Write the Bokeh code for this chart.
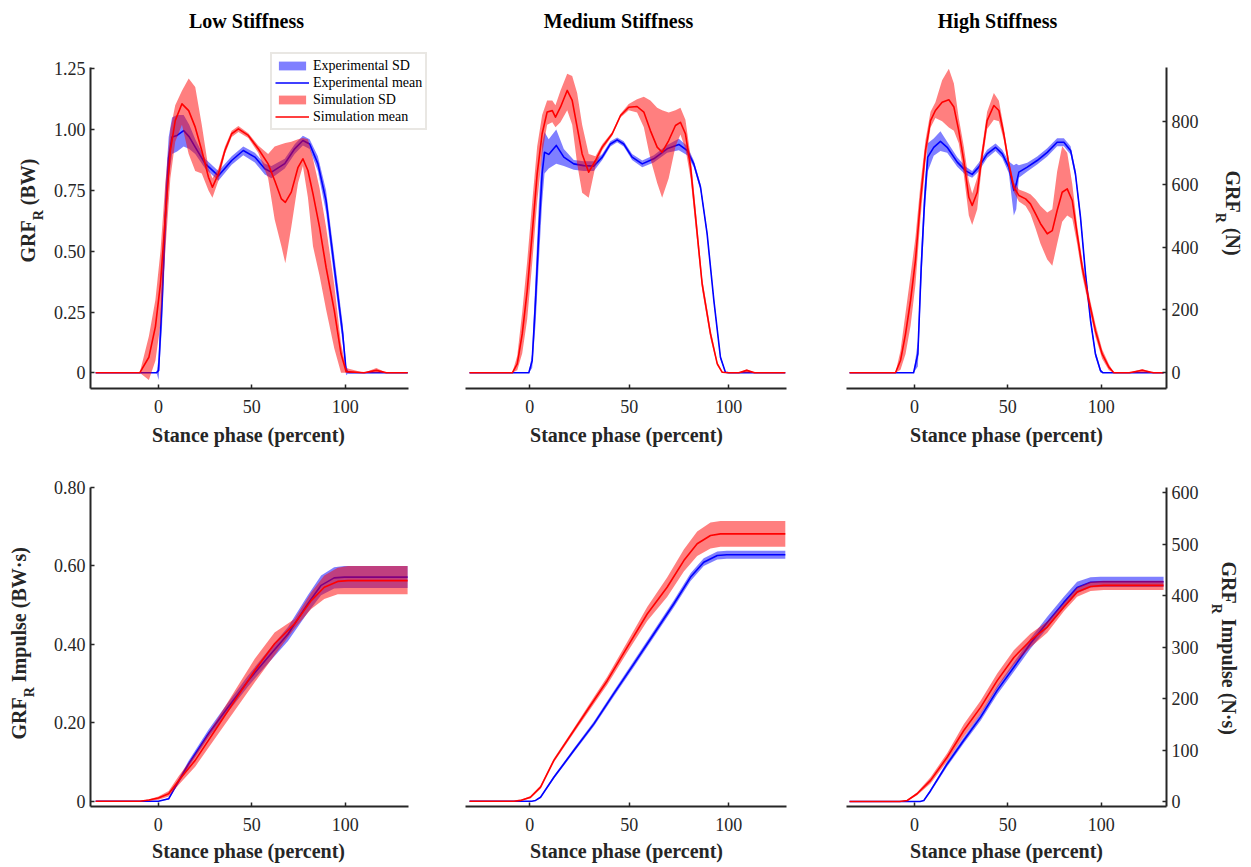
import math
from bokeh.plotting import figure
from bokeh.layouts import column, row
from bokeh.models import Label, Legend, LegendItem, Range1d, FixedTicker
from bokeh.embed import file_html
from bokeh.resources import INLINE

# ---------------- texts / ticks ----------------
panel_titles = ["Low Stiffness", "Medium Stiffness", "High Stiffness"]
x_label = "Stance phase (percent)"
x_ticks = [0, 50, 100]
grf_bw_ticks = [0, 0.25, 0.5, 0.75, 1.0, 1.25]
grf_bw_tick_labels = ["0", "0.25", "0.50", "0.75", "1.00", "1.25"]
grf_n_ticks = [0, 200, 400, 600, 800]
imp_bw_ticks = [0, 0.2, 0.4, 0.6, 0.8]
imp_bw_tick_labels = ["0", "0.20", "0.40", "0.60", "0.80"]
imp_ns_ticks = [0, 100, 200, 300, 400, 500, 600]
legend_labels = ["Experimental SD", "Experimental mean", "Simulation SD", "Simulation mean"]

# ---------------- GRF, low stiffness (BW) ----------------
low_exp_x = [-33.6, -1.0, 0.1, 2.0, 3.7, 5.5, 7.3, 10.0, 13.5, 16.5, 19.7, 25.0, 32.1, 39.2, 45.4, 51.6, 56.9, 60.5, 67.6, 72.9, 77.3, 80.9, 85.3, 89.7, 94.1, 98.6, 100.4, 102.0, 133.4]
low_exp_mean = [0, 0, 0.01, 0.30, 0.64, 0.886, 0.97, 0.976, 0.996, 0.97, 0.928, 0.86, 0.81, 0.873, 0.914, 0.887, 0.839, 0.825, 0.86, 0.921, 0.955, 0.941, 0.86, 0.708, 0.434, 0.16, 0.01, 0, 0]
low_exp_lo = [0, 0, -0.03, 0.20, 0.52, 0.80, 0.90, 0.91, 0.93, 0.92, 0.90, 0.84, 0.79, 0.855, 0.895, 0.865, 0.815, 0.80, 0.84, 0.90, 0.935, 0.92, 0.83, 0.66, 0.39, 0.12, -0.01, 0, 0]
low_exp_hi = [0, 0, 0.06, 0.40, 0.76, 0.97, 1.05, 1.06, 1.06, 1.02, 0.96, 0.88, 0.83, 0.89, 0.93, 0.905, 0.86, 0.85, 0.88, 0.94, 0.975, 0.96, 0.89, 0.75, 0.48, 0.20, 0.03, 0, 0]
low_sim_x = [-33.6, -10.0, -5.1, -1.6, 1.1, 3.7, 6.4, 9.0, 12.6, 16.2, 19.7, 23.2, 26.8, 28.9, 32.1, 35.6, 39.2, 42.8, 48.1, 53.4, 58.7, 62.2, 65.8, 67.9, 71.1, 74.7, 77.3, 80.0, 82.7, 86.2, 89.7, 94.1, 97.7, 100.4, 110.0, 116.6, 122.0, 133.4]
low_sim_mean = [0, 0, 0.064, 0.19, 0.366, 0.64, 0.914, 1.037, 1.106, 1.078, 1.01, 0.914, 0.804, 0.763, 0.818, 0.914, 0.983, 1.003, 0.976, 0.921, 0.859, 0.791, 0.715, 0.701, 0.743, 0.845, 0.88, 0.832, 0.736, 0.599, 0.434, 0.256, 0.078, 0.005, 0, 0.01, 0, 0]
low_sim_lo = [0, 0, -0.03, 0.05, 0.20, 0.50, 0.80, 0.95, 1.02, 0.90, 0.83, 0.82, 0.75, 0.72, 0.79, 0.90, 0.97, 0.99, 0.965, 0.905, 0.80, 0.63, 0.52, 0.45, 0.60, 0.78, 0.85, 0.72, 0.52, 0.40, 0.26, 0.10, 0.0, 0, 0, 0, 0, 0]
low_sim_hi = [0, 0, 0.15, 0.30, 0.50, 0.78, 1.00, 1.10, 1.16, 1.21, 1.175, 1.02, 0.84, 0.80, 0.84, 0.93, 0.995, 1.015, 0.985, 0.935, 0.90, 0.93, 0.94, 0.945, 0.95, 0.96, 0.965, 0.96, 0.88, 0.76, 0.60, 0.36, 0.12, 0.02, 0, 0.02, 0, 0]

# ---------------- GRF, medium stiffness (BW) ----------------
med_exp_x = [-30.3, -0.5, 1.2, 2.9, 4.5, 6.2, 7.4, 9.5, 13.3, 17.1, 22.1, 27.1, 32.2, 36.4, 40.5, 43.9, 47.2, 51.4, 56.5, 62.3, 69.0, 74.9, 79.1, 82.4, 85.8, 89.1, 92.5, 95.8, 98.3, 100.0, 128.4]
med_exp_mean = [0, 0, 0.05, 0.30, 0.57, 0.82, 0.907, 0.898, 0.935, 0.887, 0.859, 0.852, 0.85, 0.887, 0.941, 0.958, 0.941, 0.887, 0.859, 0.88, 0.921, 0.939, 0.914, 0.859, 0.763, 0.572, 0.297, 0.064, 0.002, 0, 0]
med_exp_lo = [0, 0, 0.02, 0.20, 0.45, 0.70, 0.82, 0.84, 0.86, 0.85, 0.835, 0.83, 0.83, 0.875, 0.93, 0.948, 0.93, 0.875, 0.845, 0.865, 0.905, 0.915, 0.895, 0.845, 0.75, 0.56, 0.285, 0.055, 0, 0, 0]
med_exp_hi = [0, 0, 0.08, 0.40, 0.69, 0.94, 0.99, 0.96, 1.0, 0.92, 0.875, 0.87, 0.87, 0.90, 0.952, 0.968, 0.952, 0.90, 0.873, 0.895, 0.937, 0.962, 0.933, 0.873, 0.776, 0.584, 0.309, 0.073, 0.004, 0, 0]
med_sim_x = [-30.3, -8.8, -6.3, -3.8, -1.3, 1.2, 3.7, 6.2, 8.7, 11.3, 12.9, 15.4, 18.8, 21.3, 23.8, 26.3, 29.6, 33.0, 36.4, 41.4, 45.6, 49.7, 53.9, 57.3, 60.6, 64.0, 66.5, 69.8, 73.2, 75.7, 78.2, 80.8, 83.3, 86.6, 90.8, 94.2, 96.7, 100.0, 105.0, 109.0, 113.0, 128.4]
med_sim_mean = [0, 0, 0.037, 0.16, 0.338, 0.572, 0.818, 0.983, 1.072, 1.078, 1.051, 1.092, 1.161, 1.12, 1.01, 0.9, 0.825, 0.873, 0.928, 0.983, 1.058, 1.092, 1.095, 1.072, 0.996, 0.928, 0.907, 0.955, 1.017, 1.03, 0.983, 0.845, 0.64, 0.366, 0.16, 0.037, 0.002, 0, 0, 0.01, 0, 0]
med_sim_lo = [0, 0, 0.01, 0.08, 0.22, 0.45, 0.70, 0.90, 1.02, 1.03, 1.01, 1.03, 1.08, 1.02, 0.86, 0.74, 0.72, 0.85, 0.915, 0.975, 1.05, 1.08, 1.07, 1.01, 0.88, 0.78, 0.72, 0.80, 0.93, 0.98, 0.92, 0.80, 0.60, 0.34, 0.14, 0.03, 0, 0, 0, 0, 0, 0]
med_sim_hi = [0, 0, 0.07, 0.25, 0.46, 0.70, 0.93, 1.06, 1.12, 1.12, 1.10, 1.16, 1.23, 1.22, 1.15, 1.02, 0.90, 0.89, 0.94, 0.99, 1.065, 1.105, 1.125, 1.135, 1.12, 1.09, 1.08, 1.07, 1.08, 1.09, 1.04, 0.89, 0.68, 0.39, 0.18, 0.045, 0.005, 0, 0, 0.015, 0, 0]

# ---------------- GRF, high stiffness (N) ----------------
high_exp_x = [-34.8, -0.5, 1.8, 3.6, 5.4, 7.1, 10.3, 13.9, 17.5, 22.9, 27.3, 30.9, 34.4, 38.9, 43.4, 47.0, 50.5, 53.2, 54.5, 55.9, 60.4, 65.7, 71.1, 76.4, 80.0, 83.6, 86.2, 88.9, 91.6, 94.3, 96.9, 99.6, 101.0, 133.4]
high_exp_mean = [0, 0, 60, 336, 548, 686, 717, 736, 717, 670, 643, 631, 654, 696, 717, 696, 654, 580, 600, 638, 654, 675, 701, 733, 733, 707, 633, 495, 315, 166, 60, 7, 0, 0]
high_exp_lo = [0, 0, 20, 280, 500, 640, 690, 705, 700, 655, 630, 620, 640, 683, 705, 683, 635, 500, 520, 620, 640, 662, 688, 720, 720, 694, 620, 482, 302, 155, 50, 0, 0, 0]
high_exp_hi = [0, 0, 100, 390, 596, 730, 745, 768, 735, 685, 656, 642, 668, 709, 729, 709, 672, 660, 665, 660, 668, 688, 714, 746, 746, 720, 646, 508, 328, 177, 70, 14, 0, 0]
high_sim_x = [-34.8, -10.2, -7.5, -4.8, -2.1, 0.5, 3.2, 5.9, 8.6, 11.2, 14.8, 18.4, 21.1, 23.7, 26.4, 29.1, 30.9, 33.6, 36.3, 38.9, 42.5, 45.2, 47.8, 50.5, 53.2, 55.9, 59.5, 62.1, 64.8, 67.5, 71.1, 73.8, 76.4, 79.1, 81.8, 84.5, 87.1, 89.8, 93.4, 96.9, 100.5, 104.1, 106.8, 115.0, 122.0, 128.0, 133.4]
high_sim_mean = [0, 0, 39, 124, 230, 357, 548, 707, 802, 834, 860, 868, 845, 770, 675, 558, 532, 574, 696, 802, 850, 834, 760, 664, 590, 564, 553, 537, 506, 474, 442, 452, 516, 574, 585, 548, 442, 336, 230, 134, 60, 18, 0, 0, 8, 0, 0]
high_sim_lo = [0, 0, 10, 60, 150, 280, 490, 670, 780, 810, 800, 780, 770, 730, 630, 500, 470, 520, 670, 775, 805, 800, 740, 650, 575, 545, 530, 505, 460, 410, 360, 340, 410, 480, 500, 490, 410, 310, 210, 115, 45, 8, 0, 0, 0, 0, 0]
high_sim_hi = [0, 0, 70, 190, 310, 430, 600, 740, 830, 860, 930, 967, 920, 810, 720, 610, 570, 620, 720, 830, 890, 865, 780, 680, 605, 583, 575, 568, 552, 530, 510, 520, 640, 720, 700, 600, 470, 360, 250, 155, 75, 28, 0, 0, 12, 0, 0]

# ---------------- Impulse, low stiffness (BW*s) ----------------
imp_low_exp_x = [-33.6, 0.0, 5.5, 9.0, 16.2, 26.8, 37.4, 48.1, 58.7, 69.4, 80.0, 87.1, 94.1, 99.5, 133.4]
imp_low_exp_mean = [0, 0, 0.006, 0.036, 0.095, 0.172, 0.24, 0.307, 0.367, 0.426, 0.503, 0.55, 0.569, 0.571, 0.571]
imp_low_exp_lo = [0, 0, 0.004, 0.031, 0.087, 0.162, 0.228, 0.293, 0.351, 0.408, 0.481, 0.525, 0.542, 0.543, 0.543]
imp_low_exp_hi = [0, 0, 0.008, 0.041, 0.103, 0.182, 0.252, 0.321, 0.383, 0.444, 0.525, 0.575, 0.596, 0.599, 0.599]
imp_low_sim_x = [-33.6, -10.0, -5.0, 0.0, 5.5, 10.9, 19.7, 30.3, 41.0, 51.6, 62.2, 72.9, 81.8, 88.8, 96.0, 101.5, 133.4]
imp_low_sim_mean = [0, 0, 0.003, 0.008, 0.019, 0.053, 0.104, 0.18, 0.257, 0.333, 0.401, 0.452, 0.511, 0.545, 0.56, 0.562, 0.562]
imp_low_sim_lo = [0, 0, 0.001, 0.004, 0.012, 0.042, 0.088, 0.16, 0.232, 0.303, 0.372, 0.44, 0.49, 0.515, 0.527, 0.527, 0.527]
imp_low_sim_hi = [0, 0, 0.005, 0.012, 0.026, 0.064, 0.12, 0.2, 0.282, 0.363, 0.43, 0.464, 0.532, 0.575, 0.595, 0.599, 0.599]

# ---------------- Impulse, medium stiffness (BW*s) ----------------
imp_med_exp_x = [-30.3, 1.0, 2.9, 5.4, 12.1, 22.1, 32.2, 42.2, 52.3, 62.3, 72.4, 80.8, 87.4, 94.2, 99.0, 128.4]
imp_med_exp_mean = [0, 0, 0.002, 0.01, 0.061, 0.129, 0.197, 0.274, 0.35, 0.426, 0.503, 0.571, 0.609, 0.626, 0.628, 0.628]
imp_med_exp_lo = [0, 0, 0.001, 0.008, 0.057, 0.124, 0.191, 0.267, 0.342, 0.418, 0.494, 0.561, 0.599, 0.616, 0.618, 0.618]
imp_med_exp_hi = [0, 0, 0.003, 0.012, 0.065, 0.134, 0.203, 0.281, 0.358, 0.434, 0.512, 0.581, 0.619, 0.636, 0.638, 0.638]
imp_med_sim_x = [-30.3, -8.0, -4.7, 0.3, 5.4, 12.1, 22.1, 28.8, 38.9, 48.9, 59.0, 69.0, 77.4, 84.1, 90.8, 95.8, 128.4]
imp_med_sim_mean = [0, 0, 0.002, 0.01, 0.036, 0.104, 0.18, 0.231, 0.307, 0.392, 0.477, 0.545, 0.613, 0.656, 0.677, 0.681, 0.681]
imp_med_sim_lo = [0, 0, 0.001, 0.007, 0.032, 0.099, 0.174, 0.223, 0.297, 0.379, 0.459, 0.52, 0.585, 0.625, 0.644, 0.648, 0.648]
imp_med_sim_hi = [0, 0, 0.003, 0.013, 0.04, 0.109, 0.186, 0.239, 0.317, 0.405, 0.495, 0.57, 0.641, 0.687, 0.71, 0.714, 0.714]

# ---------------- Impulse, high stiffness (N*s) ----------------
imp_high_exp_x = [-34.8, 0.0, 3.0, 5.0, 8.6, 17.5, 26.4, 35.4, 44.3, 53.2, 62.1, 71.1, 80.0, 87.1, 94.3, 99.6, 133.4]
imp_high_exp_mean = [0, 0, 0, 2, 21, 73, 119, 164, 216, 261, 307, 348, 387, 416, 426, 427, 427]
imp_high_exp_lo = [0, 0, 0, 1, 18, 68, 113, 157, 208, 252, 297, 337, 376, 405, 416, 417, 417]
imp_high_exp_hi = [0, 0, 0, 3, 24, 78, 125, 171, 224, 270, 317, 359, 398, 427, 436, 437, 437]
imp_high_sim_x = [-34.8, -8.0, -3.9, 1.4, 8.6, 17.5, 26.4, 35.4, 44.3, 53.2, 62.1, 71.1, 80.0, 87.1, 94.3, 101.4, 133.4]
imp_high_sim_mean = [0, 0, 2, 15, 41, 86, 138, 183, 235, 280, 313, 339, 378, 407, 418, 420, 420]
imp_high_sim_lo = [0, 0, 1, 12, 35, 78, 126, 170, 221, 266, 300, 328, 370, 398, 409, 411, 411]
imp_high_sim_hi = [0, 0, 3, 18, 47, 94, 150, 196, 249, 294, 326, 350, 386, 416, 427, 429, 429]

# ---------------- style ----------------
FONT = "Liberation Serif"
AX = "#262626"
BLUE = "#0000ff"
RED = "#ff0000"
BASELINE_FIX = 0.39   # measured offset of rendered baseline, in em

# Times (Liberation Serif) bold advance widths, per 1000 em
TB = {'G': 778, 'R': 722, 'F': 611, ' ': 250, '(': 333, ')': 333, 'B': 667, 'W': 1000,
      'N': 722, 'I': 389, 'm': 833, 'p': 556, 'u': 556, 'l': 278, 's': 389, 'e': 444, '\u00b7': 250}


def tw(s, size):
    return sum(TB.get(c, 500) for c in s) * size / 1000.0


def style_axis(ax, ticks, labels=None, standoff=6):
    ax.ticker = FixedTicker(ticks=ticks)
    if labels:
        ax.major_label_overrides = {t: l for t, l in zip(ticks, labels)}
    ax.axis_line_color = AX
    ax.axis_line_width = 2
    ax.major_tick_line_color = AX
    ax.major_tick_line_width = 1.5
    ax.major_tick_in = 4
    ax.major_tick_out = 0
    ax.minor_tick_line_color = None
    ax.major_label_text_font = FONT
    ax.major_label_text_font_size = "18px"
    ax.major_label_text_color = AX
    ax.major_label_standoff = standoff


# page-pixel geometry (page origin at the top-left corner):
# canvas (cl,ct,cr,cb), frame (fl,ft,fr,fb), axis-line extent (al,ar,at,ab),
# data mapping: page_x = X0 + kx*x, page_y = Y0 - ky*y
XA = dict(X0=156.3, kx=1.88)
XB = dict(X0=529.3, kx=1.99)
XC = dict(X0=914.0, kx=1.867)
TOP = dict(ct=45, cb=422, ft=50, fb=388, at=67, ab=388)
BOT = dict(ct=455, cb=838, ft=486, fb=806, at=486.5, ab=806)

GEOM = {
    'A': dict(cl=50, cr=436, fl=88, fr=436, al=88, ar=408, Y0=372.3, ky=243.2, **XA, **TOP),
    'B': dict(cl=436, cr=816, fl=465, fr=786, al=465, ar=786, Y0=372.3, ky=243.2, **XB, **TOP),
    'C': dict(cl=816, cr=1205, fl=846, fr=1166, al=846, ar=1166, Y0=372.3, ky=0.3145, **XC, **TOP),
    'D': dict(cl=50, cr=436, fl=88, fr=408, al=88, ar=408, Y0=800.7, ky=392.5, **XA, **BOT),
    'E': dict(cl=436, cr=816, fl=465, fr=786, al=465, ar=786, Y0=800.7, ky=392.5, **XB, **BOT),
    'F': dict(cl=816, cr=1205, fl=846, fr=1166, al=846, ar=1166, Y0=801.0, ky=0.5145, **XC, **BOT),
}


def make_panel(key, yloc, series, yticks=None, ylabels=None):
    g = GEOM[key]
    px2x = lambda px: (px - g['X0']) / g['kx']
    py2y = lambda py: (g['Y0'] - py) / g['ky']
    p = figure(width=g['cr'] - g['cl'], height=g['cb'] - g['ct'],
               x_range=Range1d(px2x(g['fl']), px2x(g['fr'])),
               y_range=Range1d(py2y(g['fb']), py2y(g['ft'])),
               output_backend="svg", toolbar_location=None, y_axis_location=yloc,
               min_border_left=g['fl'] - g['cl'], min_border_right=g['cr'] - g['fr'],
               min_border_top=g['ft'] - g['ct'], min_border_bottom=g['cb'] - g['fb'])
    p.outline_line_color = None
    p.grid.visible = False
    p.background_fill_color = "white"
    p.border_fill_color = "white"
    xa = p.xaxis[0]
    style_axis(xa, x_ticks, standoff=11)
    xa.bounds = (px2x(g['al']), px2x(g['ar']))
    if yloc is not None:
        ya = p.yaxis[0]
        style_axis(ya, yticks, ylabels, standoff=5)
        ya.bounds = (py2y(g['ab']), py2y(g['at']))
    (ex, em, elo, ehi), (sx, sm, slo, shi) = series
    r1 = p.varea(x=ex, y1=elo, y2=ehi, fill_color=BLUE, fill_alpha=0.5)
    r2 = p.line(ex, em, line_color=BLUE, line_width=1.6, line_join="round")
    r3 = p.varea(x=sx, y1=slo, y2=shi, fill_color=RED, fill_alpha=0.5)
    r4 = p.line(sx, sm, line_color=RED, line_width=1.6, line_join="round")
    p._rends = [r1, r2, r3, r4]
    return p


def strip(l, t, r, b, ft=None, fb=None):
    # a text-only figure whose data coordinates are page pixels
    ft = t if ft is None else ft
    fb = b if fb is None else fb
    s = figure(width=r - l, height=b - t, x_range=Range1d(l, r), y_range=Range1d(fb, ft),
               x_axis_location=None, y_axis_location=None, toolbar_location=None,
               output_backend="svg", min_border_left=0, min_border_right=0,
               min_border_top=ft - t, min_border_bottom=b - fb)
    s.outline_line_color = None
    s.grid.visible = False
    s.background_fill_color = "white"
    s.border_fill_color = "white"
    return s


def put_text(s, px, py, text, size, bold=True, angle=0.0, align="left", color=AX):
    # (px, py) is the wanted baseline anchor in page pixels
    d = BASELINE_FIX * size
    px -= d * math.sin(angle)
    py -= d * math.cos(angle)
    s.add_layout(Label(x=px, y=py, text=text, text_font=FONT, text_font_size="%gpx" % size,
                       text_font_style="bold" if bold else "normal", text_color=color,
                       angle=angle, text_align=align, text_baseline="alphabetic"))


def ylabel_left(s, base_x, start_y, rest):
    w1, w2 = tw("GRF", 20), tw("R", 14)
    put_text(s, base_x, start_y, "GRF", 20, angle=math.pi / 2)
    put_text(s, base_x + 8.5, start_y - w1, "R", 14, angle=math.pi / 2)
    put_text(s, base_x, start_y - w1 - w2 - tw(" ", 20), rest, 20, angle=math.pi / 2)


def ylabel_right(s, base_x, start_y, rest):
    w1, w2 = tw("GRF", 20), tw("R", 14)
    put_text(s, base_x, start_y, "GRF", 20, angle=-math.pi / 2)
    put_text(s, base_x - 9.5, start_y + w1, "R", 14, angle=-math.pi / 2)
    put_text(s, base_x, start_y + w1 + w2 + tw(" ", 20), rest, 20, angle=-math.pi / 2)


# ---------------- panels ----------------
pA = make_panel('A', "left", [(low_exp_x, low_exp_mean, low_exp_lo, low_exp_hi),
                              (low_sim_x, low_sim_mean, low_sim_lo, low_sim_hi)],
                grf_bw_ticks, grf_bw_tick_labels)
pB = make_panel('B', None, [(med_exp_x, med_exp_mean, med_exp_lo, med_exp_hi),
                            (med_sim_x, med_sim_mean, med_sim_lo, med_sim_hi)])
pC = make_panel('C', "right", [(high_exp_x, high_exp_mean, high_exp_lo, high_exp_hi),
                               (high_sim_x, high_sim_mean, high_sim_lo, high_sim_hi)],
                grf_n_ticks)
pD = make_panel('D', "left", [(imp_low_exp_x, imp_low_exp_mean, imp_low_exp_lo, imp_low_exp_hi),
                              (imp_low_sim_x, imp_low_sim_mean, imp_low_sim_lo, imp_low_sim_hi)],
                imp_bw_ticks, imp_bw_tick_labels)
pE = make_panel('E', None, [(imp_med_exp_x, imp_med_exp_mean, imp_med_exp_lo, imp_med_exp_hi),
                            (imp_med_sim_x, imp_med_sim_mean, imp_med_sim_lo, imp_med_sim_hi)])
pF = make_panel('F', "right", [(imp_high_exp_x, imp_high_exp_mean, imp_high_exp_lo, imp_high_exp_hi),
                               (imp_high_sim_x, imp_high_sim_mean, imp_high_sim_lo, imp_high_sim_hi)],
                imp_ns_ticks)

# legend (page box approx. x 267..427, y 57..130)
gA = GEOM['A']
legend = Legend(items=[LegendItem(label=lab, renderers=[rr]) for lab, rr in zip(legend_labels, pA._rends)],
                location=(268 - gA['fl'], gA['fb'] - 130), orientation="vertical",
                label_text_font=FONT, label_text_font_size="14px", label_text_color="black",
                glyph_width=34, glyph_height=11, label_height=17, label_standoff=4,
                spacing=0, padding=3, margin=0,
                border_line_color="#d4d0c8", border_line_width=2,
                background_fill_color="white", background_fill_alpha=1.0)
pA.add_layout(legend)

# ---------------- text strips ----------------
sTitle = strip(0, 0, 1250, 45)
for cx, t in zip([246, 618, 997], panel_titles):
    put_text(sTitle, cx, 28, t, 20, align="center", color="black")

sLT = strip(0, TOP['ct'], 50, TOP['cb'], TOP['ft'], TOP['fb'])
ylabel_left(sLT, 35, 262, "(BW)")
sLB = strip(0, BOT['ct'], 50, BOT['cb'], BOT['ft'], BOT['fb'])
ylabel_left(sLB, 26, 739, "Impulse (BW\u00b7s)")
sRT = strip(1205, TOP['ct'], 1250, TOP['cb'], TOP['ft'], TOP['fb'])
ylabel_right(sRT, 1224.5, 170, "(N)")
sRB = strip(1205, BOT['ct'], 1250, BOT['cb'], BOT['ft'], BOT['fb'])
ylabel_right(sRB, 1220.5, 561, "Impulse (N\u00b7s)")

x_label_centers = [248, 626, 1006]
sXT = strip(0, TOP['cb'], 1250, BOT['ct'])
sXB = strip(0, BOT['cb'], 1250, 866)
for cx in x_label_centers:
    put_text(sXT, cx, 442, x_label, 20, align="center")
    put_text(sXB, cx, 858, x_label, 20, align="center")

layout = column(sTitle,
                row(sLT, pA, pB, pC, sRT),
                sXT,
                row(sLB, pD, pE, pF, sRB),
                sXB)

with open("out.html", "w") as f:
    f.write(file_html(layout, INLINE))
